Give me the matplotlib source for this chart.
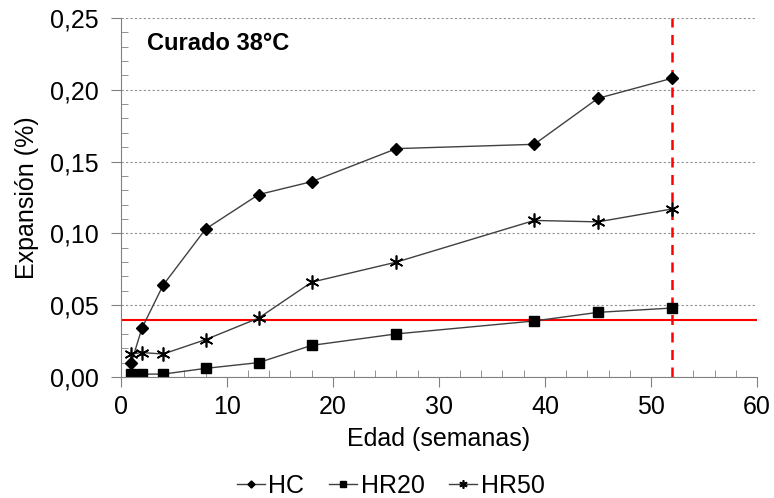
import matplotlib.pyplot as plt
import matplotlib.ticker as ticker

plt.rcParams['font.family'] = ['Liberation Sans', 'DejaVu Sans']

edad = [1, 2, 4, 8, 13, 18, 26, 39, 45, 52]
hc = [0.010, 0.034, 0.064, 0.103, 0.127, 0.136, 0.159, 0.162, 0.194, 0.208]
hr20 = [0.002, 0.002, 0.002, 0.006, 0.010, 0.022, 0.030, 0.039, 0.045, 0.048]
hr50 = [0.016, 0.017, 0.016, 0.026, 0.041, 0.066, 0.080, 0.109, 0.108, 0.117]
limite = 0.04
edad_limite = 52

fig = plt.figure(figsize=(7.74, 4.98), dpi=100)
ax = fig.add_axes([0.156, 0.243, 0.822, 0.721])

linea = dict(color='#404040', lw=1.0, mfc='black', mec='black')
ax.plot(edad, hc, marker='D', ms=6, label='HC', **linea)
ax.plot(edad, hr20, marker='s', ms=7.5, label='HR20', **linea)
ax.plot(edad, hr50, marker=(6, 2, 0), ms=10, mew=1.2, label='HR50', **linea)

ax.axhline(limite, color='red', lw=1.5, zorder=1)
ax.axvline(edad_limite, color='red', lw=1.8, ls=(0, (4, 3)), zorder=1)

ax.set_xlim(0, 60)
ax.set_ylim(0, 0.25)
ax.xaxis.set_major_locator(ticker.MultipleLocator(10))
ax.xaxis.set_minor_locator(ticker.MultipleLocator(2))
ax.yaxis.set_major_locator(ticker.MultipleLocator(0.05))
ax.yaxis.set_minor_locator(ticker.MultipleLocator(0.01))
ax.yaxis.set_major_formatter(ticker.FuncFormatter(lambda v, p: f"{v:.2f}".replace('.', ',')))
ax.tick_params(which='major', direction='out', length=7, color='#808080', labelsize=18)
ax.tick_params(axis='y', which='major', pad=9)
ax.tick_params(axis='x', which='major', pad=6)
ax.tick_params(which='minor', direction='in', length=5, color='#808080')
ax.grid(axis='y', which='major', color='#909090', ls=(0, (2, 2)), lw=0.8)
ax.set_axisbelow(True)

for s in ['top', 'right']:
    ax.spines[s].set_visible(False)
for s in ['left', 'bottom']:
    ax.spines[s].set_color('#808080')

ax.set_xlabel('Edad (semanas)', fontsize=18, labelpad=6)
ax.set_ylabel('Expansión (%)', fontsize=18, labelpad=8)
ax.text(0.042, 0.928, 'Curado 38°C', transform=ax.transAxes, fontsize=17,
        fontweight='bold', va='center')

fig.legend(loc='center', bbox_to_anchor=(0.505, 0.025), ncol=3, frameon=False,
           fontsize=18, handlelength=1.1, handletextpad=0.15, columnspacing=1.0,
           markerscale=0.6)

fig.savefig('out.png')
